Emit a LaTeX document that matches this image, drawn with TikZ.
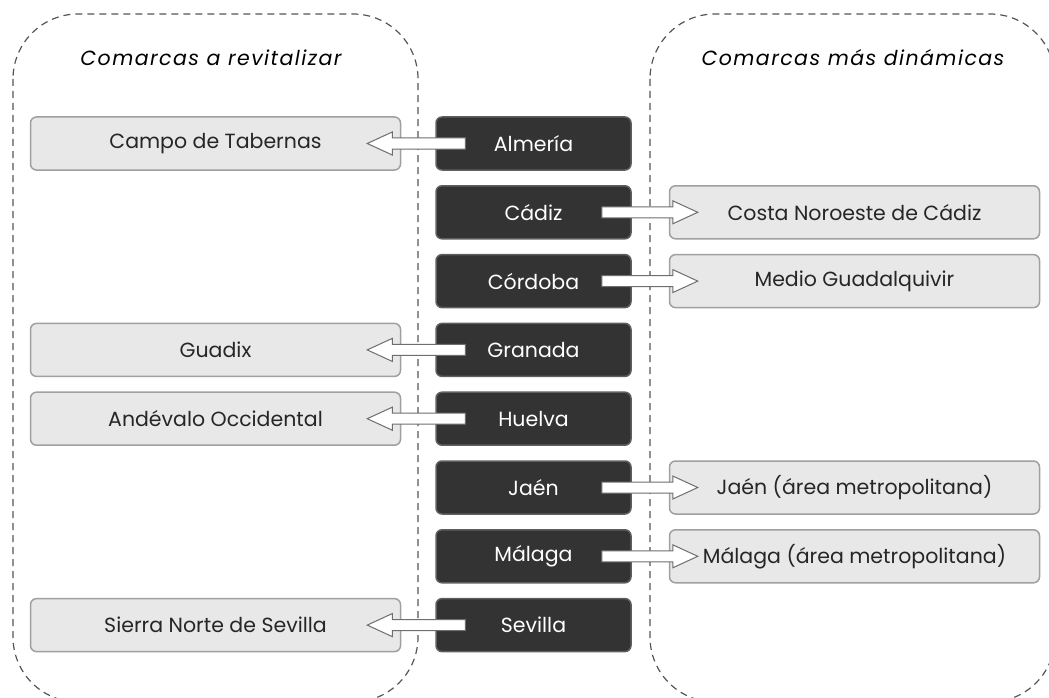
\documentclass[tikz,border=0pt]{standalone}
\usepackage{fontspec}
\setmainfont{Poppins}
\definecolor{charcoal}{RGB}{51,51,51}
\definecolor{charcoal-edge}{RGB}{95,95,95}
\definecolor{mist}{RGB}{232,232,232}
\definecolor{mist-edge}{RGB}{160,160,160}
\definecolor{dash-grey}{RGB}{85,85,85}
\definecolor{arrow-grey}{RGB}{110,110,110}
\usetikzlibrary{calc}
\usetikzlibrary{positioning}

\begin{document}
\begin{tikzpicture}[%
            x=1pt,y=-1pt,
            font=\fontsize{20.5}{24}\selectfont,
            province/.style={draw=charcoal-edge,fill=charcoal,text=white,
              line width=1.5pt,rounded corners=6pt,
              minimum width=195pt,minimum height=53pt},
            comarca/.style={draw=mist-edge,fill=mist,text=black!85,
              line width=1.5pt,rounded corners=6pt,
              minimum width=370pt,minimum height=53pt},
            region/.style={draw=dash-grey,dashed,line width=1.2pt,
              dash pattern=on 7pt off 5pt,rounded corners=65pt},
            heading/.style={font=\fontsize{20.5}{24}\selectfont\itshape\addfontfeature{LetterSpace=7}},
            hollow/.style={draw=arrow-grey,fill=white,line width=1pt,
              to path={let \p1=(\tikztostart), \p2=(\tikztotarget),
                \n1={ifthenelse(\x2>\x1,25,-25)} in
                (\x1,\y1+5.5pt) -- (\x2-\n1*1pt,\y1+5.5pt)
                -- (\x2-\n1*1pt,\y1+11.5pt) -- (\x2,\y1)
                -- (\x2-\n1*1pt,\y1-11.5pt) -- (\x2-\n1*1pt,\y1-5.5pt)
                -- (\x1,\y1-5.5pt) -- cycle}}
          ]
            \useasboundingbox (0,0) rectangle (1049,698);

            \draw [region] (13,14) rectangle (418,702);
            \draw [region] (650,14) rectangle (1055,702);
            \node [heading] (revitalizar) at (211,58) {Comarcas a revitalizar};
            \node [heading] (dinamicas) at (853,58) {Comarcas más dinámicas};

            \foreach \name/\prov [count=\i from 0] in {alm/Almería,cad/Cádiz,
                cor/Córdoba,gra/Granada,hue/Huelva,jae/Jaén,mal/Málaga,sev/Sevilla}
              \node [province] (\name) at (533.5,{143.5+68.8*\i}) {\prov};

            \node [comarca,left=34pt of alm] (tabernas) {Campo de Tabernas};
            \node [comarca,right=37pt of cad] (noroeste) {Costa Noroeste de Cádiz};
            \node [comarca,right=37pt of cor] (guadalquivir) {Medio Guadalquivir};
            \node [comarca,left=34pt of gra] (guadix) {Guadix};
            \node [comarca,left=34pt of hue] (andevalo) {Andévalo Occidental};
            \node [comarca,right=37pt of jae] (jaenmetro) {Jaén (área metropolitana)};
            \node [comarca,right=37pt of mal] (malagametro) {Málaga (área metropolitana)};
            \node [comarca,left=34pt of sev] (sierranorte) {Sierra Norte de Sevilla};

            \draw [hollow] ($(alm.west)+(30,0)$) to ($(tabernas.east)+(-34,0)$);
            \draw [hollow] ($(gra.west)+(30,0)$) to ($(guadix.east)+(-34,0)$);
            \draw [hollow] ($(hue.west)+(30,0)$) to ($(andevalo.east)+(-34,0)$);
            \draw [hollow] ($(sev.west)+(30,0)$) to ($(sierranorte.east)+(-34,0)$);
            \draw [hollow] ($(cad.east)+(-30,0)$) to ($(noroeste.west)+(29,0)$);
            \draw [hollow] ($(cor.east)+(-30,0)$) to ($(guadalquivir.west)+(29,0)$);
            \draw [hollow] ($(jae.east)+(-30,0)$) to ($(jaenmetro.west)+(29,0)$);
            \draw [hollow] ($(mal.east)+(-30,0)$) to ($(malagametro.west)+(29,0)$);
          \end{tikzpicture}
\end{document}
